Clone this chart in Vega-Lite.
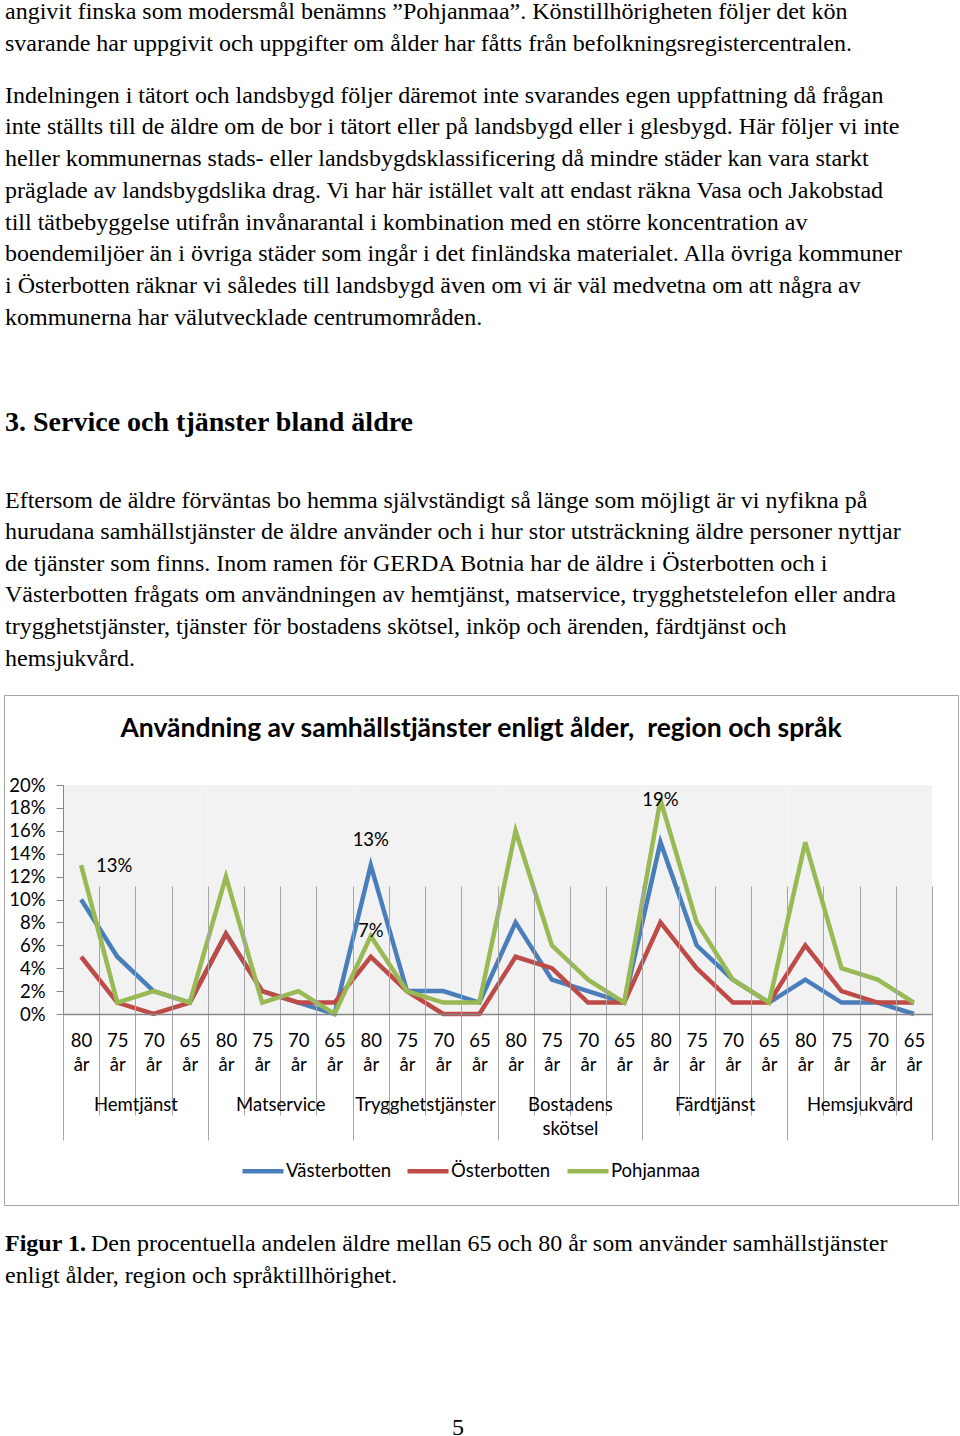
{
  "$schema": "https://vega.github.io/schema/vega-lite/v6.json",
  "padding": {"left": 3, "right": 3, "top": 0, "bottom": 0},
  "background": "white",
  "bounds": "flush",
  "spacing": 0,
  "config": {
    "view": {"stroke": null},
    "axis": {"labelFont": "Lato", "labelFontSize": 18.5, "labelColor": "#000", "title": null},
    "text": {"color": "#000"}
  },
  "datasets": {
    "vals": [
      {"key": "Hemtjänst|80 år", "region": "Västerbotten", "value": 0.10},
      {"key": "Hemtjänst|75 år", "region": "Västerbotten", "value": 0.05},
      {"key": "Hemtjänst|70 år", "region": "Västerbotten", "value": 0.02},
      {"key": "Hemtjänst|65 år", "region": "Västerbotten", "value": 0.01},
      {"key": "Matservice|80 år", "region": "Västerbotten", "value": 0.07},
      {"key": "Matservice|75 år", "region": "Västerbotten", "value": 0.02},
      {"key": "Matservice|70 år", "region": "Västerbotten", "value": 0.01},
      {"key": "Matservice|65 år", "region": "Västerbotten", "value": 0.00},
      {"key": "Trygghetstjänster|80 år", "region": "Västerbotten", "value": 0.13},
      {"key": "Trygghetstjänster|75 år", "region": "Västerbotten", "value": 0.02},
      {"key": "Trygghetstjänster|70 år", "region": "Västerbotten", "value": 0.02},
      {"key": "Trygghetstjänster|65 år", "region": "Västerbotten", "value": 0.01},
      {"key": "Bostadens skötsel|80 år", "region": "Västerbotten", "value": 0.08},
      {"key": "Bostadens skötsel|75 år", "region": "Västerbotten", "value": 0.03},
      {"key": "Bostadens skötsel|70 år", "region": "Västerbotten", "value": 0.02},
      {"key": "Bostadens skötsel|65 år", "region": "Västerbotten", "value": 0.01},
      {"key": "Färdtjänst|80 år", "region": "Västerbotten", "value": 0.15},
      {"key": "Färdtjänst|75 år", "region": "Västerbotten", "value": 0.06},
      {"key": "Färdtjänst|70 år", "region": "Västerbotten", "value": 0.03},
      {"key": "Färdtjänst|65 år", "region": "Västerbotten", "value": 0.01},
      {"key": "Hemsjukvård|80 år", "region": "Västerbotten", "value": 0.03},
      {"key": "Hemsjukvård|75 år", "region": "Västerbotten", "value": 0.01},
      {"key": "Hemsjukvård|70 år", "region": "Västerbotten", "value": 0.01},
      {"key": "Hemsjukvård|65 år", "region": "Västerbotten", "value": 0.00},
      {"key": "Hemtjänst|80 år", "region": "Österbotten", "value": 0.05},
      {"key": "Hemtjänst|75 år", "region": "Österbotten", "value": 0.01},
      {"key": "Hemtjänst|70 år", "region": "Österbotten", "value": 0.00},
      {"key": "Hemtjänst|65 år", "region": "Österbotten", "value": 0.01},
      {"key": "Matservice|80 år", "region": "Österbotten", "value": 0.07},
      {"key": "Matservice|75 år", "region": "Österbotten", "value": 0.02},
      {"key": "Matservice|70 år", "region": "Österbotten", "value": 0.01},
      {"key": "Matservice|65 år", "region": "Österbotten", "value": 0.01},
      {"key": "Trygghetstjänster|80 år", "region": "Österbotten", "value": 0.05},
      {"key": "Trygghetstjänster|75 år", "region": "Österbotten", "value": 0.02},
      {"key": "Trygghetstjänster|70 år", "region": "Österbotten", "value": 0.00},
      {"key": "Trygghetstjänster|65 år", "region": "Österbotten", "value": 0.00},
      {"key": "Bostadens skötsel|80 år", "region": "Österbotten", "value": 0.05},
      {"key": "Bostadens skötsel|75 år", "region": "Österbotten", "value": 0.04},
      {"key": "Bostadens skötsel|70 år", "region": "Österbotten", "value": 0.01},
      {"key": "Bostadens skötsel|65 år", "region": "Österbotten", "value": 0.01},
      {"key": "Färdtjänst|80 år", "region": "Österbotten", "value": 0.08},
      {"key": "Färdtjänst|75 år", "region": "Österbotten", "value": 0.04},
      {"key": "Färdtjänst|70 år", "region": "Österbotten", "value": 0.01},
      {"key": "Färdtjänst|65 år", "region": "Österbotten", "value": 0.01},
      {"key": "Hemsjukvård|80 år", "region": "Österbotten", "value": 0.06},
      {"key": "Hemsjukvård|75 år", "region": "Österbotten", "value": 0.02},
      {"key": "Hemsjukvård|70 år", "region": "Österbotten", "value": 0.01},
      {"key": "Hemsjukvård|65 år", "region": "Österbotten", "value": 0.01},
      {"key": "Hemtjänst|80 år", "region": "Pohjanmaa", "value": 0.13},
      {"key": "Hemtjänst|75 år", "region": "Pohjanmaa", "value": 0.01},
      {"key": "Hemtjänst|70 år", "region": "Pohjanmaa", "value": 0.02},
      {"key": "Hemtjänst|65 år", "region": "Pohjanmaa", "value": 0.01},
      {"key": "Matservice|80 år", "region": "Pohjanmaa", "value": 0.12},
      {"key": "Matservice|75 år", "region": "Pohjanmaa", "value": 0.01},
      {"key": "Matservice|70 år", "region": "Pohjanmaa", "value": 0.02},
      {"key": "Matservice|65 år", "region": "Pohjanmaa", "value": 0.00},
      {"key": "Trygghetstjänster|80 år", "region": "Pohjanmaa", "value": 0.068},
      {"key": "Trygghetstjänster|75 år", "region": "Pohjanmaa", "value": 0.02},
      {"key": "Trygghetstjänster|70 år", "region": "Pohjanmaa", "value": 0.01},
      {"key": "Trygghetstjänster|65 år", "region": "Pohjanmaa", "value": 0.01},
      {"key": "Bostadens skötsel|80 år", "region": "Pohjanmaa", "value": 0.16},
      {"key": "Bostadens skötsel|75 år", "region": "Pohjanmaa", "value": 0.06},
      {"key": "Bostadens skötsel|70 år", "region": "Pohjanmaa", "value": 0.03},
      {"key": "Bostadens skötsel|65 år", "region": "Pohjanmaa", "value": 0.01},
      {"key": "Färdtjänst|80 år", "region": "Pohjanmaa", "value": 0.187},
      {"key": "Färdtjänst|75 år", "region": "Pohjanmaa", "value": 0.08},
      {"key": "Färdtjänst|70 år", "region": "Pohjanmaa", "value": 0.03},
      {"key": "Färdtjänst|65 år", "region": "Pohjanmaa", "value": 0.01},
      {"key": "Hemsjukvård|80 år", "region": "Pohjanmaa", "value": 0.15},
      {"key": "Hemsjukvård|75 år", "region": "Pohjanmaa", "value": 0.04},
      {"key": "Hemsjukvård|70 år", "region": "Pohjanmaa", "value": 0.03},
      {"key": "Hemsjukvård|65 år", "region": "Pohjanmaa", "value": 0.01}
    ]
  },
  "vconcat": [
    {
      "width": 954,
      "height": 695,
      "layer": [
        {
          "data": {"values": [
            {"line": 0, "text": "angivit finska som modersmål benämns ”Pohjanmaa”. Könstillhörigheten följer det kön"},
            {"line": 1, "text": "svarande har uppgivit och uppgifter om ålder har fåtts från befolkningsregistercentralen."}
          ]},
          "mark": {"type": "text", "align": "left", "baseline": "alphabetic", "font": "Liberation Serif", "fontSize": 24, "clip": true},
          "encoding": {
            "x": {"value": 1},
            "y": {"field": "line", "type": "quantitative", "scale": {"domain": [0, 1], "range": [19.3, 51], "nice": false, "zero": false}, "axis": null},
            "text": {"field": "text"}
          }
        },
        {
          "data": {"values": [
            {"line": 0, "text": "Indelningen i tätort och landsbygd följer däremot inte svarandes egen uppfattning då frågan"},
            {"line": 1, "text": "inte ställts till de äldre om de bor i tätort eller på landsbygd eller i glesbygd. Här följer vi inte"},
            {"line": 2, "text": "heller kommunernas stads- eller landsbygdsklassificering då mindre städer kan vara starkt"},
            {"line": 3, "text": "präglade av landsbygdslika drag. Vi har här istället valt att endast räkna Vasa och Jakobstad"},
            {"line": 4, "text": "till tätbebyggelse utifrån invånarantal i kombination med en större koncentration av"},
            {"line": 5, "text": "boendemiljöer än i övriga städer som ingår i det finländska materialet. Alla övriga kommuner"},
            {"line": 6, "text": "i Österbotten räknar vi således till landsbygd även om vi är väl medvetna om att några av"},
            {"line": 7, "text": "kommunerna har välutvecklade centrumområden."}
          ]},
          "mark": {"type": "text", "align": "left", "baseline": "alphabetic", "font": "Liberation Serif", "fontSize": 24},
          "encoding": {
            "x": {"value": 1},
            "y": {"field": "line", "type": "quantitative", "scale": {"domain": [0, 7], "range": [102.7, 325], "nice": false, "zero": false}, "axis": null},
            "text": {"field": "text"}
          }
        },
        {
          "data": {"values": [{"text": "3. Service och tjänster bland äldre"}]},
          "mark": {"type": "text", "align": "left", "baseline": "alphabetic", "font": "Liberation Serif", "fontSize": 28, "fontWeight": "bold"},
          "encoding": {"x": {"value": 1}, "y": {"value": 431}, "text": {"field": "text"}}
        },
        {
          "data": {"values": [
            {"line": 0, "text": "Eftersom de äldre förväntas bo hemma självständigt så länge som möjligt är vi nyfikna på"},
            {"line": 1, "text": "hurudana samhällstjänster de äldre använder och i hur stor utsträckning äldre personer nyttjar"},
            {"line": 2, "text": "de tjänster som finns. Inom ramen för GERDA Botnia har de äldre i Österbotten och i"},
            {"line": 3, "text": "Västerbotten frågats om användningen av hemtjänst, matservice, trygghetstelefon eller andra"},
            {"line": 4, "text": "trygghetstjänster, tjänster för bostadens skötsel, inköp och ärenden, färdtjänst och"},
            {"line": 5, "text": "hemsjukvård."}
          ]},
          "mark": {"type": "text", "align": "left", "baseline": "alphabetic", "font": "Liberation Serif", "fontSize": 24},
          "encoding": {
            "x": {"value": 1},
            "y": {"field": "line", "type": "quantitative", "scale": {"domain": [0, 5], "range": [507.6, 665.7], "nice": false, "zero": false}, "axis": null},
            "text": {"field": "text"}
          }
        }
      ],
      "resolve": {"scale": {"y": "independent"}}
    },
    {
      "width": 954,
      "height": 510,
      "view": {"stroke": "#a6a6a6", "strokeWidth": 1},
      "layer": [
        {
          "data": {"values": [{"text": "Användning av samhällstjänster enligt ålder,\u00a0 region och språk"}]},
          "mark": {"type": "text", "align": "center", "baseline": "middle", "font": "Lato", "fontSize": 26.5, "fontWeight": "bold"},
          "encoding": {"x": {"value": 477}, "y": {"value": 34}, "text": {"field": "text"}}
        },
        {
          "layer": [
            {
              "data": {"values": [
                {"service": "Hemtjänst"}, {"service": "Matservice"}, {"service": "Trygghetstjänster"},
                {"service": "Bostadens skötsel"}, {"service": "Färdtjänst"}, {"service": "Hemsjukvård"}
              ]},
              "mark": {"type": "bar", "color": "#f2f2f2", "zindex": 0},
              "encoding": {
                "x": {
                  "field": "service", "type": "nominal",
                  "scale": {"type": "band", "domain": ["Hemtjänst", "Matservice", "Trygghetstjänster", "Bostadens skötsel", "Färdtjänst", "Hemsjukvård"], "range": [59, 928], "paddingInner": 0, "paddingOuter": 0},
                  "axis": {
                    "orient": "bottom", "offset": -191, "tickBand": "extent", "tickSize": 126, "tickColor": "#a6a6a6", "tickWidth": 1,
                    "domain": false, "grid": false, "labelAngle": 0, "labelPadding": -45, "labelLineHeight": 24,
                    "labelBaseline": "top", "labelExpr": "isString(datum.value) ? split(datum.value, ' ') : ''", "zindex": 1
                  }
                },
                "y": {"datum": 0.2, "type": "quantitative", "scale": {"domain": [0, 0.2], "range": [319, 90], "nice": false, "zero": true}},
                "y2": {"datum": 0}
              }
            },
            {
              "layer": [
                {
                  "data": {"name": "vals"},
                  "mark": {"type": "line", "strokeWidth": 4.5, "zindex": 2},
                  "encoding": {
                    "x": {
                      "field": "key", "type": "nominal", "bandPosition": 0.5,
                      "scale": {"type": "band", "range": [59, 928], "paddingInner": 0, "paddingOuter": 0,
                        "domain": ["Hemtjänst|80 år", "Hemtjänst|75 år", "Hemtjänst|70 år", "Hemtjänst|65 år",
                          "Matservice|80 år", "Matservice|75 år", "Matservice|70 år", "Matservice|65 år",
                          "Trygghetstjänster|80 år", "Trygghetstjänster|75 år", "Trygghetstjänster|70 år", "Trygghetstjänster|65 år",
                          "Bostadens skötsel|80 år", "Bostadens skötsel|75 år", "Bostadens skötsel|70 år", "Bostadens skötsel|65 år",
                          "Färdtjänst|80 år", "Färdtjänst|75 år", "Färdtjänst|70 år", "Färdtjänst|65 år",
                          "Hemsjukvård|80 år", "Hemsjukvård|75 år", "Hemsjukvård|70 år", "Hemsjukvård|65 år"]},
                      "axis": {
                        "orient": "bottom", "offset": -191, "tickBand": "extent", "tickSize": 61, "tickColor": "#a6a6a6", "tickWidth": 1,
                        "grid": true, "gridColor": "#a6a6a6", "gridWidth": 1,
                        "domain": true, "domainColor": "#868686", "domainWidth": 1.5,
                        "labelAngle": 0, "labelPadding": -44, "labelLineHeight": 24, "labelBaseline": "top",
                        "labelExpr": "isString(datum.value) && indexof(datum.value, '|') >= 0 ? split(split(datum.value, '|')[1], ' ') : ''", "zindex": 1
                      }
                    },
                    "y": {
                      "field": "value", "type": "quantitative",
                      "scale": {"domain": [0, 0.2], "range": [319, 90], "nice": false, "zero": true},
                      "axis": {
                        "orient": "left", "offset": -59, "values": [0, 0.02, 0.04, 0.06, 0.08, 0.1, 0.12, 0.14, 0.16, 0.18, 0.2],
                        "format": ".0%", "tickSize": 7, "tickColor": "#868686", "domainColor": "#868686", "labelPadding": 11,
                        "grid": false, "zindex": 1
                      }
                    },
                    "color": {
                      "field": "region", "type": "nominal",
                      "scale": {"domain": ["Västerbotten", "Österbotten", "Pohjanmaa"], "range": ["#4a7ebb", "#be4b48", "#98b954"]},
                      "legend": {
                        "orient": "none", "legendX": 236, "legendY": 1148, "direction": "horizontal", "title": null,
                        "symbolType": "stroke", "symbolStrokeWidth": 4.5, "symbolSize": 1681, "labelFont": "Lato",
                        "labelFontSize": 18.5, "labelColor": "#000", "columnPadding": 7, "labelOffset": 0, "padding": 0
                      }
                    },
                    "order": {"value": null}
                  }
                },
                {
                  "data": {"name": "vals"},
                  "transform": [{"filter": "datum.key == 'Hemtjänst|80 år' && datum.region == 'Pohjanmaa'"}],
                  "mark": {"type": "text", "font": "Lato", "fontSize": 18.5, "dx": 33, "dy": 1, "zindex": 3},
                  "encoding": {
                    "x": {"field": "key", "type": "nominal", "bandPosition": 0.5},
                    "y": {"field": "value", "type": "quantitative"},
                    "text": {"field": "value", "format": ".0%"}
                  }
                },
                {
                  "data": {"name": "vals"},
                  "transform": [{"filter": "datum.key == 'Trygghetstjänster|80 år' && datum.region == 'Västerbotten'"}],
                  "mark": {"type": "text", "font": "Lato", "fontSize": 18.5, "dy": -25, "zindex": 3},
                  "encoding": {
                    "x": {"field": "key", "type": "nominal", "bandPosition": 0.5},
                    "y": {"field": "value", "type": "quantitative"},
                    "text": {"field": "value", "format": ".0%"}
                  }
                },
                {
                  "data": {"name": "vals"},
                  "transform": [{"filter": "datum.key == 'Trygghetstjänster|80 år' && datum.region == 'Pohjanmaa'"}],
                  "mark": {"type": "text", "font": "Lato", "fontSize": 18.5, "dy": -5, "zindex": 3},
                  "encoding": {
                    "x": {"field": "key", "type": "nominal", "bandPosition": 0.5},
                    "y": {"field": "value", "type": "quantitative"},
                    "text": {"field": "value", "format": ".0%"}
                  }
                },
                {
                  "data": {"name": "vals"},
                  "transform": [{"filter": "datum.key == 'Färdtjänst|80 år' && datum.region == 'Pohjanmaa'"}],
                  "mark": {"type": "text", "font": "Lato", "fontSize": 18.5, "dy": 0, "zindex": 3},
                  "encoding": {
                    "x": {"field": "key", "type": "nominal", "bandPosition": 0.5},
                    "y": {"field": "value", "type": "quantitative"},
                    "text": {"field": "value", "format": ".0%"}
                  }
                }
              ]
            }
          ],
          "resolve": {"scale": {"x": "independent"}, "axis": {"x": "independent"}}
        }
      ]
    },
    {
      "width": 954,
      "height": 231,
      "layer": [
        {
          "data": {"values": [{"text": "Figur 1."}]},
          "mark": {"type": "text", "align": "left", "baseline": "alphabetic", "font": "Liberation Serif", "fontSize": 24, "fontWeight": "bold"},
          "encoding": {"x": {"value": 1}, "y": {"value": 46}, "text": {"field": "text"}}
        },
        {
          "data": {"values": [{"text": "Den procentuella andelen äldre mellan 65 och 80 år som använder samhällstjänster"}]},
          "mark": {"type": "text", "align": "left", "baseline": "alphabetic", "font": "Liberation Serif", "fontSize": 24},
          "encoding": {"x": {"value": 87}, "y": {"value": 46}, "text": {"field": "text"}}
        },
        {
          "data": {"values": [{"text": "enligt ålder, region och språktillhörighet."}]},
          "mark": {"type": "text", "align": "left", "baseline": "alphabetic", "font": "Liberation Serif", "fontSize": 24},
          "encoding": {"x": {"value": 1}, "y": {"value": 78}, "text": {"field": "text"}}
        },
        {
          "data": {"values": [{"text": "5"}]},
          "mark": {"type": "text", "align": "center", "baseline": "alphabetic", "font": "Liberation Serif", "fontSize": 24},
          "encoding": {"x": {"value": 454}, "y": {"value": 230}, "text": {"field": "text"}}
        }
      ]
    }
  ]
}
